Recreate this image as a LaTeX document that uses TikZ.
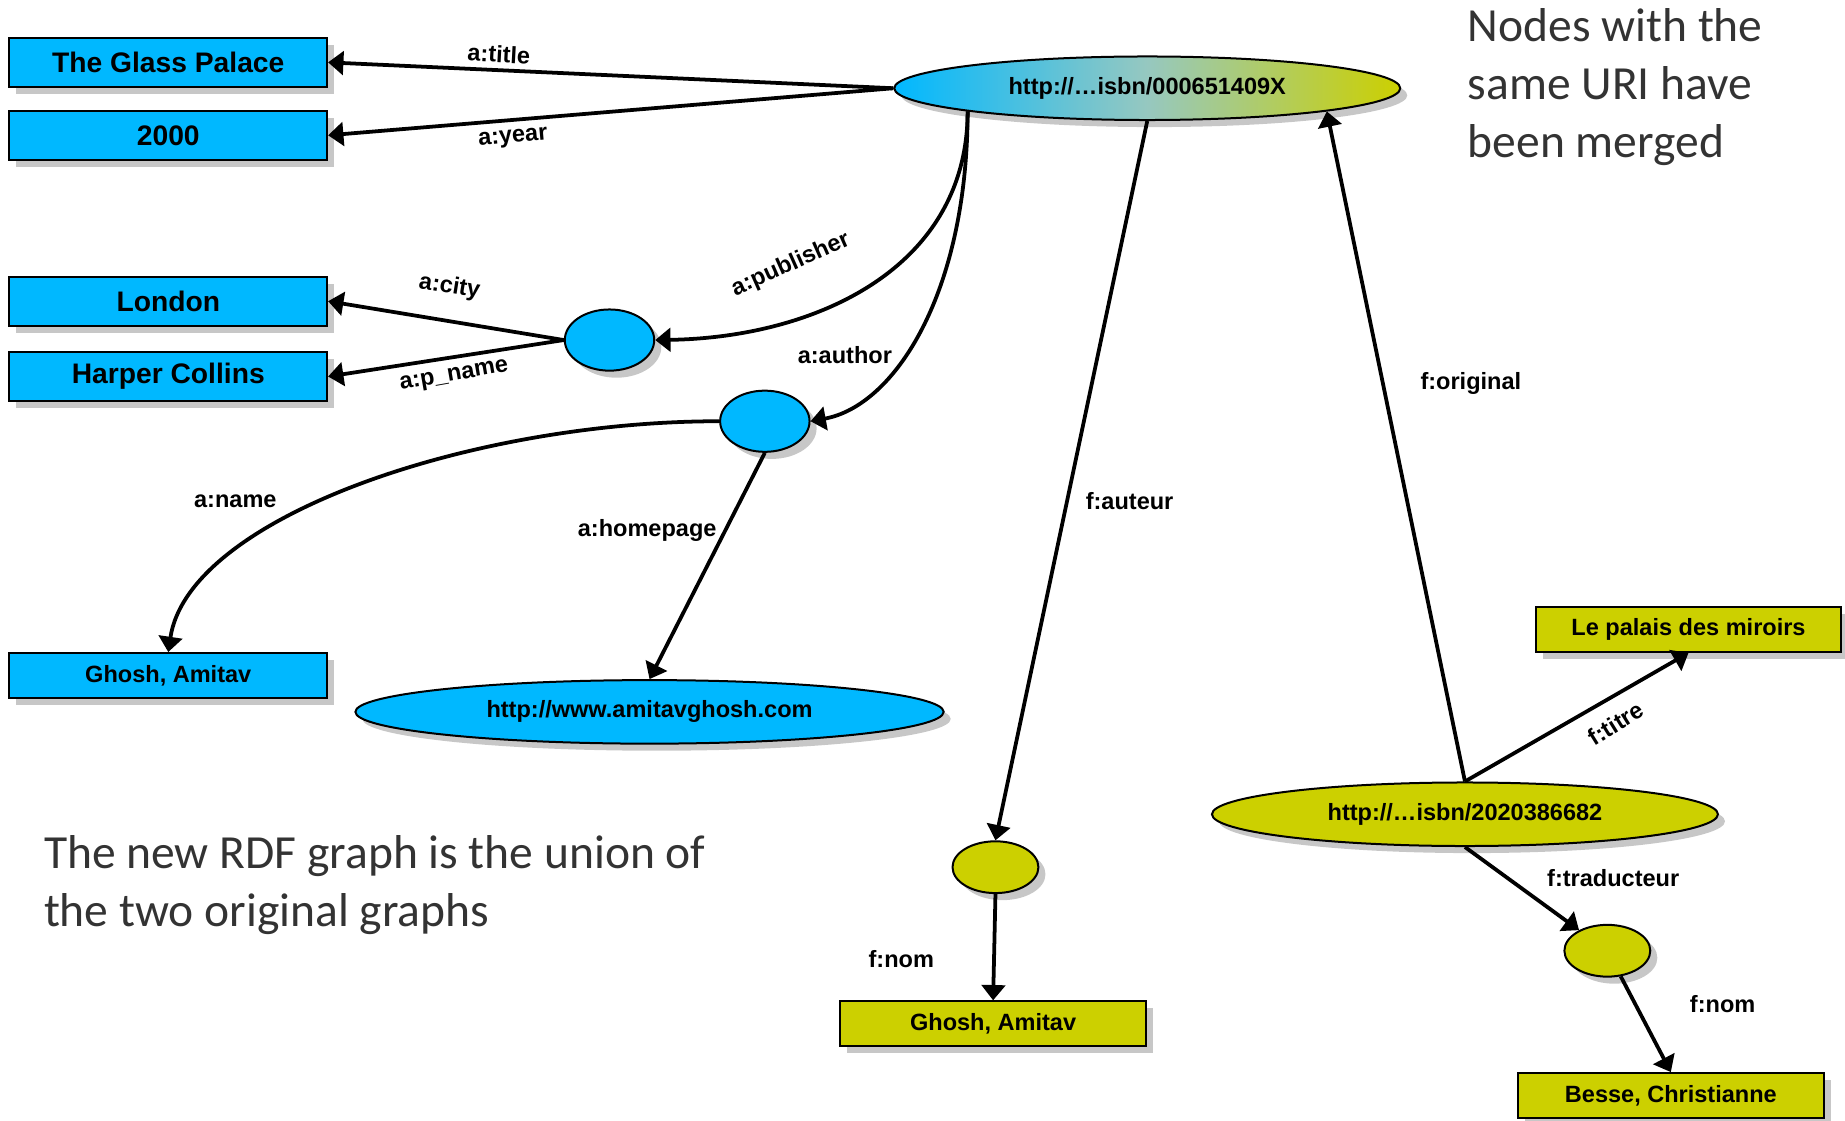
\documentclass[tikz,border=0pt]{standalone}
\usepackage{fontspec}
\setmainfont{Liberation Sans}
\newfontfamily\notefont{Carlito}
\usetikzlibrary{shapes.geometric,shadows,arrows.meta}
\definecolor{rdfblue}{RGB}{0,184,255}
\definecolor{rdfyellow}{RGB}{204,208,0}
\definecolor{rdfmid}{RGB}{150,200,192}
\begin{document}
\begin{tikzpicture}[x=0.5pt,y=-0.5pt,
  shad/.style={drop shadow={shadow xshift=3pt,shadow yshift=-3pt,fill=black!22,opacity=1}},
  litbox/.style={draw,rectangle,line width=0.85pt,inner sep=0pt,minimum width=135pt,minimum height=21pt,font=\bfseries\fontsize{12}{14}\selectfont,shad},
  smallbox/.style={litbox,minimum width=130pt,minimum height=19pt,font=\bfseries\fontsize{10}{12}\selectfont},
  uri/.style={draw,ellipse,line width=0.85pt,inner sep=0pt,minimum width=215pt,minimum height=27pt,font=\bfseries\fontsize{10}{12}\selectfont,shad},
  blank/.style={draw,ellipse,line width=0.85pt,inner sep=0pt,minimum width=38pt,minimum height=26pt,shad},
  rel/.style={line width=1.6pt,-{Triangle[length=6.5pt,width=10pt]}},
  lbl/.style={font=\bfseries\fontsize{10}{12}\selectfont},
  note/.style={anchor=north west,inner sep=0pt,align=left,text=black!80,font=\notefont\fontsize{20.2}{24.6}\selectfont}]
\useasboundingbox (0,0) rectangle (1568,952);
\node[litbox,fill=rdfblue] (glass) at (143,53) {The Glass Palace};
\node[litbox,fill=rdfblue] (year) at (143,115) {2000};
\node[litbox,fill=rdfblue] (london) at (143,256) {London};
\node[litbox,fill=rdfblue] (harper) at (143,320) {Harper Collins};
\node[smallbox,fill=rdfblue,minimum width=135pt] (ghoshA) at (143,574) {Ghosh, Amitav};
\node[uri,left color=rdfblue,right color=rdfyellow,middle color=rdfmid] (isbnA) at (975,75) {http://…isbn/000651409X};
\node[blank,fill=rdfblue] (pub) at (518,289) {};
\node[blank,fill=rdfblue] (auth) at (650,358) {};
\node[uri,fill=rdfblue,minimum width=250pt] (home) at (552,605) {http://www.amitavghosh.com};
\node[uri,fill=rdfyellow] (isbnB) at (1245,692) {http://…isbn/2020386682};
\node[smallbox,fill=rdfyellow] (palais) at (1435,535) {Le palais des miroirs};
\node[blank,fill=rdfyellow,minimum width=36.5pt,minimum height=22pt] (aut) at (846,737) {};
\node[smallbox,fill=rdfyellow] (ghoshF) at (844,870) {Ghosh, Amitav};
\node[blank,fill=rdfyellow,minimum width=36.5pt,minimum height=22pt] (trad) at (1366,808) {};
\node[smallbox,fill=rdfyellow] (besse) at (1420,931) {Besse, Christianne};
\draw[rel] (isbnA.west) -- (glass.east);
\draw[rel] (isbnA.west) -- (year.east);
\draw[rel] (isbnA.south west) .. controls (822,230) and (690,287) .. (pub.east);
\draw[rel] (isbnA.south west) .. controls (822,250) and (760,345) .. (auth.east);
\draw[rel] (pub.west) -- (london.east);
\draw[rel] (pub.west) -- (harper.east);
\draw[rel] (auth.west) .. controls (400,358) and (160,440) .. (ghoshA.north);
\draw[rel] (auth.south) -- (home.north);
\draw[rel] (isbnA.south) -- (aut.north);
\draw[rel] (aut.south) -- (ghoshF.north);
\draw[rel] (isbnB.north) -- (isbnA.south east);
\draw[rel] (isbnB.north) -- (palais.south);
\draw[rel] (isbnB.south) -- (trad);
\draw[rel] (trad) -- (besse.north);
\node[lbl,rotate=-3] (tTitle) at (424,46) {a:title};
\node[lbl,rotate=5] (tYear) at (436,118) {a:year};
\node[lbl,rotate=24] (tPub) at (672,225) {a:publisher};
\node[lbl] (tAuth) at (718,302) {a:author};
\node[lbl,rotate=-9] (tCity) at (382,244) {a:city};
\node[lbl,rotate=10] (tPname) at (386,320) {a:p\_name};
\node[lbl] (tName) at (200,426) {a:name};
\node[lbl] (tHome) at (550,451) {a:homepage};
\node[lbl] (tAut) at (960,426) {f:auteur};
\node[lbl] (tNomA) at (766,815) {f:nom};
\node[lbl] (tOrig) at (1250,326) {f:original};
\node[lbl,rotate=32] (tTitre) at (1373,615) {f:titre};
\node[lbl] (tTrad) at (1371,746) {f:traducteur};
\node[lbl] (tNomB) at (1464,853) {f:nom};
\node[note] (merged) at (1247,7) {Nodes with the\\same URI have\\been merged};
\node[note] (union) at (37,710) {The new RDF graph is the union of\\the two original graphs};
\end{tikzpicture}
\end{document}
